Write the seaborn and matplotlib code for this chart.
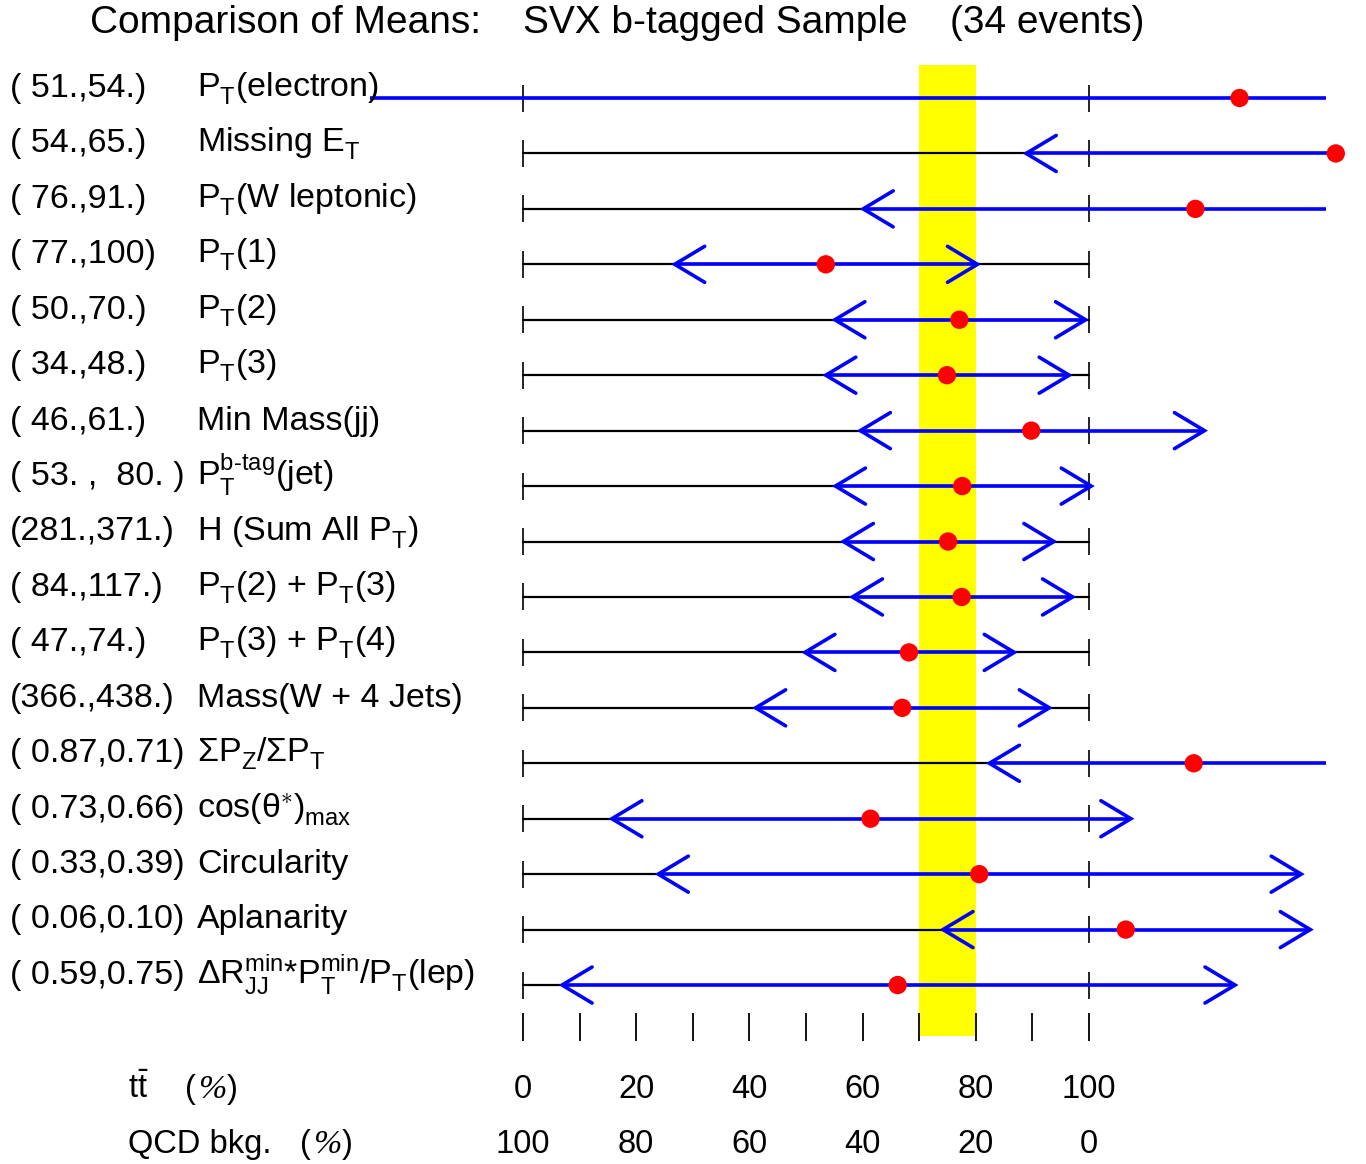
import numpy as np
import pandas as pd
import matplotlib
matplotlib.use("Agg")
import matplotlib.pyplot as plt
import seaborn as sns

try:  # deeper, slightly larger subscripts for the P_T style labels
    from matplotlib import _mathtext
    _mathtext.FontConstantsBase.sub1 = 0.45
    _mathtext.FontConstantsBase.sub2 = 0.6
except Exception:
    pass

# ---- data -------------------------------------------------------------
variables = [
    "P$_\\mathrm{T}$(electron)",
    "Missing E$_\\mathrm{T}$",
    "P$_\\mathrm{T}$(W leptonic)",
    "P$_\\mathrm{T}$(1)",
    "P$_\\mathrm{T}$(2)",
    "P$_\\mathrm{T}$(3)",
    "Min Mass(jj)",
    "P$^{\\mathrm{b}\\text{-}\\mathrm{tag}}_{\\mathrm{T}}$(jet)",
    "H (Sum All P$_\\mathrm{T}$)",
    "P$_\\mathrm{T}$(2) + P$_\\mathrm{T}$(3)",
    "P$_\\mathrm{T}$(3) + P$_\\mathrm{T}$(4)",
    "Mass(W + 4 Jets)",
    "ΣP$_\\mathrm{Z}$/ΣP$_\\mathrm{T}$",
    "cos(θ$^{\\ast}$)$_{\\mathrm{max}}$",
    "Circularity",
    "Aplanarity",
    "ΔR$^{\\mathrm{min}}_{\\mathrm{JJ}}$*P$^{\\mathrm{min}}_{\\mathrm{T}}$/P$_\\mathrm{T}$(lep)",
]
mean_pairs = [
    "( 51.,54.)", "( 54.,65.)", "( 76.,91.)", "( 77.,100)", "( 50.,70.)",
    "( 34.,48.)", "( 46.,61.)", "( 53. ,  80. )", "(281.,371.)",
    "( 84.,117.)", "( 47.,74.)", "(366.,438.)", "( 0.87,0.71)",
    "( 0.73,0.66)", "( 0.33,0.39)", "( 0.06,0.10)", "( 0.59,0.75)",
]
# fitted ttbar fraction (%) and its lower / upper limits
frac_mean = [126.6, 143.6, 118.8, 53.5, 77.1, 74.9, 89.8, 77.6, 75.1,
             77.5, 68.2, 67.0, 118.5, 61.4, 80.6, 106.5, 66.2]
frac_low = [-27.0, 88.9, 60.1, 26.8, 55.1, 53.5, 59.6, 55.2, 56.6,
            58.2, 49.8, 41.1, 82.4, 15.7, 23.9, 74.2, 6.9]
frac_high = [141.9, 143.6, 141.9, 80.3, 99.4, 96.5, 120.4, 100.4, 93.8,
             97.1, 86.8, 93.0, 141.9, 107.4, 137.5, 139.1, 125.8]
ttbar_ticks = [0, 20, 40, 60, 80, 100]
qcd_ticks = [100, 80, 60, 40, 20, 0]
band = (70, 80)

# limits beyond which a range is cut off and loses its arrowhead
SHOWN_LO, SHOWN_HI = -27.0, 141.5

# ---- style ------------------------------------------------------------
sns.set_theme(style="white")
plt.rcParams["font.family"] = ["Liberation Sans", "DejaVu Sans"]
plt.rcParams["text.color"] = "black"
plt.rcParams["mathtext.fontset"] = "custom"
plt.rcParams["mathtext.rm"] = "Liberation Sans"
plt.rcParams["mathtext.it"] = "Liberation Sans:italic"
plt.rcParams["mathtext.bf"] = "Liberation Sans:bold"

W, H = 1366, 1164
X0, PXU = 523.0, 5.66          # pixel of 0 %, pixels per %
Y0, PXR = 98.0, 55.44          # pixel of first row, pixels per row

fig = plt.figure(figsize=(W / 100, H / 100), dpi=100)
ax = fig.add_axes([0, 0, 1, 1])


def xpx(p):
    return (p - X0) / PXU


def ypx(p):
    return (p - Y0) / PXR


n = len(variables)
rows = np.arange(n)
df = pd.DataFrame({"row": rows, "mean": frac_mean,
                   "low": frac_low, "high": frac_high})

BLUE, LW_B, LW_K = "#0000ff", 2.6, 1.6
dx, dy = 30 / PXU, 18 / PXR
tick_h = 13.5 / PXR

# yellow reference band
ax.fill_betweenx([ypx(65), ypx(1036)], band[0], band[1],
                 color="#ffff00", lw=0, zorder=0)

for r, lo, hi in zip(rows, df["low"], df["high"]):
    ax.plot([0, 100], [r, r], color="black", lw=LW_K, zorder=2)
    ax.vlines([0, 100], r - tick_h, r + tick_h, color="black", lw=1.2, zorder=2)
    ax.plot([lo, hi], [r, r], color=BLUE, lw=LW_B, zorder=3,
            solid_capstyle="butt")
    if lo > SHOWN_LO:
        ax.plot([lo + dx, lo, lo + dx], [r - dy, r, r + dy], color=BLUE,
                lw=LW_B, zorder=3, solid_joinstyle="miter")
    if hi < SHOWN_HI:
        ax.plot([hi - dx, hi, hi - dx], [r - dy, r, r + dy], color=BLUE,
                lw=LW_B, zorder=3, solid_joinstyle="miter")

sns.scatterplot(data=df, x="mean", y="row", color="#ff0000", s=175,
                edgecolor="none", linewidth=0, ax=ax, zorder=5, legend=False,
                clip_on=False)
ax.set_xlim(-X0 / PXU, (W - X0) / PXU)
ax.set_ylim((H - Y0) / PXR, -Y0 / PXR)
ax.axis("off")

FS = 24.5
for r, pair, name in zip(rows, mean_pairs, variables):
    ax.text(xpx(10), r - 0.02, pair, fontsize=FS, va="baseline", ha="left")
    ax.text(xpx(197), r - 0.02, name, fontsize=FS, va="baseline", ha="left")

# bottom scale
TK = 23.5
minor = np.arange(0, 101, 10)
ax.vlines(minor, ypx(1013), ypx(1041), color="black", lw=1.3, zorder=2)
for t in ttbar_ticks:
    ax.text(t, ypx(1098), f"{t}", fontsize=TK, ha="center", va="baseline")
for pos, t in zip(ttbar_ticks, qcd_ticks):
    ax.text(pos, ypx(1153), f"{t}", fontsize=TK, ha="center", va="baseline")


def percent_unit(x_left, y_base):
    """'(%)' with a slanted serif percent sign."""
    ax.text(xpx(x_left), ypx(y_base), "(", fontsize=TK, va="baseline")
    ax.text(xpx(x_left + 13), ypx(y_base), "%", fontsize=TK + 1,
            va="baseline", style="italic",
            family=["Liberation Serif", "DejaVu Serif"])
    ax.text(xpx(x_left + 42), ypx(y_base), ")", fontsize=TK, va="baseline")


ax.text(xpx(128), ypx(1098), "t$\\bar{\\mathrm{t}}$", fontsize=TK, va="baseline")
percent_unit(185, 1098)
ax.text(xpx(128), ypx(1153), "QCD bkg.", fontsize=TK, va="baseline")
percent_unit(300, 1153)

# title
TFS = 28
ax.text(xpx(90), ypx(33), "Comparison of Means:", fontsize=TFS, va="baseline")
ax.text(xpx(523), ypx(33), "SVX b-tagged Sample", fontsize=TFS, va="baseline")
ax.text(xpx(950), ypx(33), "(34 events)", fontsize=TFS, va="baseline")

fig.savefig("out.png", dpi=100)
